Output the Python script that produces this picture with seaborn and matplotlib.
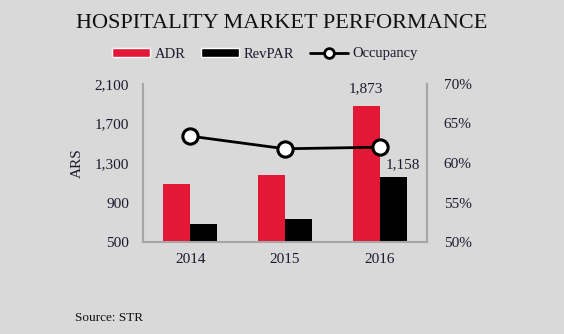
import matplotlib
matplotlib.use("Agg")
import matplotlib.pyplot as plt
import seaborn as sns
import pandas as pd
from matplotlib.patches import Patch
from matplotlib.lines import Line2D
from matplotlib.ticker import FuncFormatter

years = ["2014", "2015", "2016"]
adr = [1085, 1180, 1873]
revpar = [685, 733, 1158]
occupancy = [63.4, 61.8, 62.0]
left_ticks = [500, 900, 1300, 1700, 2100]
right_ticks = [50, 55, 60, 65, 70]

BG = "#d9d9d9"
RED = "#e31837"
GRAY = "#a6a6a6"

sns.set_theme(style="white")
plt.rcParams["font.family"] = ["Liberation Serif", "DejaVu Serif"]

df = pd.DataFrame({
    "year": years * 2,
    "metric": ["ADR"] * 3 + ["RevPAR"] * 3,
    "value": adr + revpar,
})

fig = plt.figure(figsize=(5.64, 3.34), dpi=100, facecolor=BG)
ax = fig.add_axes([143 / 564, 1 - 242 / 334, 284 / 564, 158 / 334])
ax.set_facecolor(BG)

sns.barplot(data=df, x="year", y="value", hue="metric", palette=[RED, "black"],
            width=0.57, ax=ax, legend=False, saturation=1, linewidth=0)
ax.set_xlim(-0.5, 2.5)
ax.set_ylim(500, 2100)
ax.set_yticks(left_ticks)
ax.yaxis.set_major_formatter(FuncFormatter(lambda v, p: f"{int(v):,}"))
ax.set_xlabel("")
ax.set_ylabel("ARS", fontsize=11, color="#1a1a2e", labelpad=8)
ax.tick_params(axis="both", length=0, labelsize=11, colors="#1a1a2e")
ax.tick_params(axis="x", pad=8)
ax.tick_params(axis="y", pad=10)
for s in ["left", "bottom", "right"]:
    ax.spines[s].set_color(GRAY)
    ax.spines[s].set_linewidth(1.5)
ax.spines["top"].set_visible(False)

# value labels for 2016
off = 0.57 / 4
ax.annotate(f"{adr[2]:,}", (2 - off, adr[2]), xytext=(0, 8), textcoords="offset points",
            ha="center", va="bottom", fontsize=11, color="#1a1a2e")
ax.annotate(f"{revpar[2]:,}", (2 + off, revpar[2]), xytext=(7, 4), textcoords="offset points",
            ha="center", va="bottom", fontsize=11, color="#1a1a2e")

ax2 = ax.twinx()
occ_df = pd.DataFrame({"x": [0, 1, 2], "occ": occupancy})
sns.lineplot(data=occ_df, x="x", y="occ", ax=ax2, color="black", linewidth=2,
             marker="o", markersize=11, markerfacecolor="white",
             markeredgecolor="black", markeredgewidth=2.2)
ax2.set_ylim(50, 70)
ax2.set_yticks(right_ticks)
ax2.yaxis.set_major_formatter(FuncFormatter(lambda v, p: f"{int(v)}%"))
ax2.set_ylabel("")
ax2.set_xlabel("")
ax2.tick_params(axis="y", length=0, labelsize=11, colors="#1a1a2e", pad=12)
for s in ["top", "left", "bottom"]:
    ax2.spines[s].set_visible(False)
ax2.spines["right"].set_color(GRAY)
ax2.spines["right"].set_linewidth(1.5)
ax.set_xlim(-0.5, 2.5)

fig.text(0.5, 1 - 24 / 334, "HOSPITALITY MARKET PERFORMANCE", ha="center", va="center",
         fontsize=16, color="#111111")

handles = [Patch(facecolor=RED, label="ADR"), Patch(facecolor="black", label="RevPAR"),
           Line2D([0], [0], color="black", lw=2, marker="o", markersize=7,
                  markerfacecolor="white", markeredgewidth=2, label="Occupancy")]
fig.legend(handles=handles, loc="center", bbox_to_anchor=(265 / 564, 1 - 54 / 334), ncol=3,
           frameon=False, fontsize=10.5, handlelength=2.6, handleheight=0.6,
           columnspacing=1.1, handletextpad=0.3, labelcolor="#1a1a2e")

fig.text(75 / 564, 1 - 318 / 334, "Source: STR", ha="left", va="center", fontsize=9.5,
         color="#111111")

fig.savefig("out.png", dpi=100, facecolor=BG)
